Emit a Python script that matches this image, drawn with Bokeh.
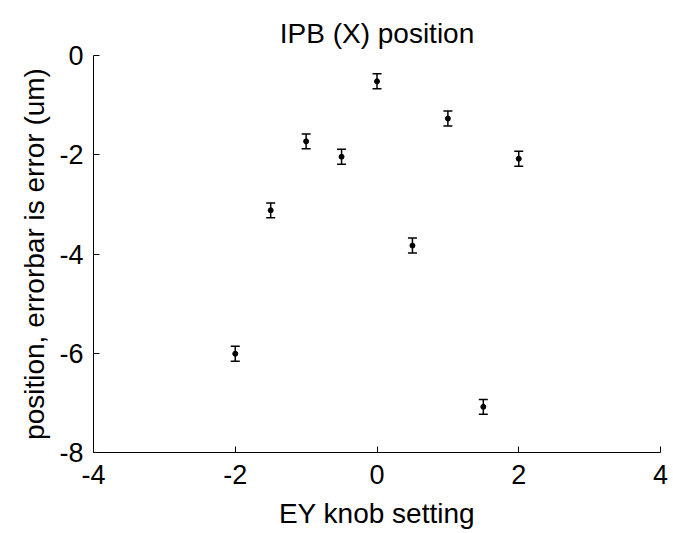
from bokeh.plotting import figure
from bokeh.models import Range1d, FixedTicker, Whisker, TeeHead, ColumnDataSource
from bokeh.embed import file_html
from bokeh.resources import INLINE

knob = [-2, -1.5, -1, -0.5, 0, 0.5, 1, 1.5, 2]
position = [-6.01, -3.12, -1.73, -2.04, -0.52, -3.83, -1.27, -7.08, -2.08]
error = [0.15, 0.15, 0.15, 0.15, 0.15, 0.15, 0.15, 0.15, 0.15]
x_ticks = [-4, -2, 0, 2, 4]
y_ticks = [0, -2, -4, -6, -8]

src = ColumnDataSource(dict(
    x=knob, y=position,
    lo=[p - e for p, e in zip(position, error)],
    hi=[p + e for p, e in zip(position, error)],
))

FONT = "Liberation Sans"
p = figure(width=673, height=533, output_backend="svg", toolbar_location=None,
           x_range=Range1d(-4, 4), y_range=Range1d(-8, 0),
           title="IPB (X) position")
p.min_border_left = 93
p.min_border_right = 13
p.min_border_top = 55
p.min_border_bottom = 81
p.outline_line_color = None
p.xgrid.visible = False
p.ygrid.visible = False
p.background_fill_color = "white"
p.border_fill_color = "white"

p.title.align = "center"
p.title.vertical_align = "top"
p.title.text_font = FONT
p.title.text_font_size = "28px"
p.title.text_font_style = "normal"
p.title.text_color = "black"
p.title.standoff = 10

for ax in (p.xaxis[0], p.yaxis[0]):
    ax.major_tick_in = 6
    ax.major_tick_out = 0
    ax.minor_tick_line_color = None
    ax.axis_line_color = "black"
    ax.major_tick_line_color = "black"
    ax.major_label_text_font = FONT
    ax.major_label_text_font_size = "27px"
    ax.major_label_text_color = "black"
    ax.axis_label_text_font = FONT
    ax.axis_label_text_font_size = "28px"
    ax.axis_label_text_font_style = "normal"
    ax.axis_label_text_color = "black"

p.xaxis.ticker = FixedTicker(ticks=x_ticks)
p.yaxis.ticker = FixedTicker(ticks=y_ticks)
p.xaxis.major_label_overrides = {t: str(t) for t in x_ticks}
p.yaxis.major_label_overrides = {t: str(t) for t in y_ticks}
p.xaxis.axis_label = "EY knob setting"
p.yaxis.axis_label = "position, errorbar is error (um)"
p.xaxis.major_label_standoff = 12
p.yaxis.major_label_standoff = 10
p.xaxis.axis_label_standoff = 11
p.yaxis.axis_label_standoff = 6

w = Whisker(source=src, base="x", lower="lo", upper="hi", line_color="black", line_width=1.5,
            upper_head=TeeHead(size=9, line_color="black", line_width=1.5),
            lower_head=TeeHead(size=9, line_color="black", line_width=1.5))
p.add_layout(w)
p.scatter("x", "y", source=src, size=5, color="black", marker="circle")

open("out.html", "w").write(file_html(p, INLINE))
